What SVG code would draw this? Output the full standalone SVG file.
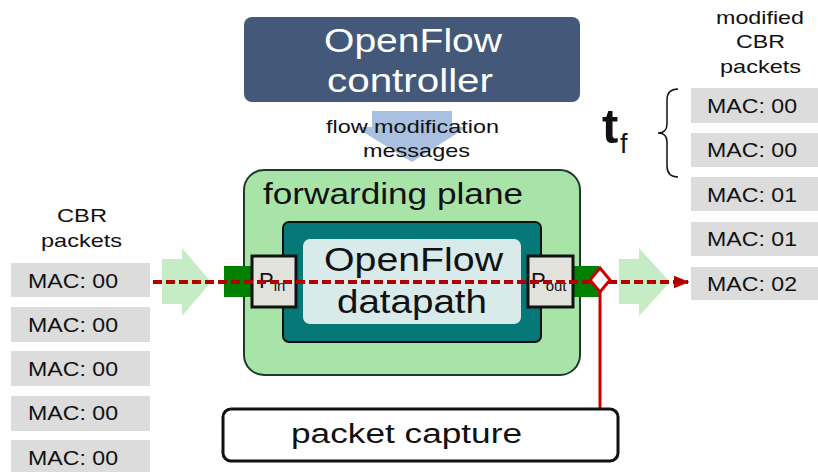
<svg xmlns="http://www.w3.org/2000/svg" width="818" height="472" viewBox="0 0 818 472">
<style>
text{font-family:"Liberation Sans",Arial,sans-serif;fill:#111}
.pkt{fill:#dcdcdc}
.mac{font-size:20.5px}
.lbl{font-size:19px}
.garrow{fill:#c6ecc6}
.port{fill:#e2e2dc;stroke:#111;stroke-width:3}
.strip{fill:#008000}
</style>
<defs>
<marker id="ah" viewBox="0 0 10 10" refX="9" refY="5" markerWidth="4" markerHeight="4" orient="auto" markerUnits="strokeWidth"><path d="M0,1 L10,5 L0,9 z" fill="#b00000"/></marker>
</defs>

<g id="controller">
<rect x="244" y="17" width="336" height="85" rx="8" fill="#44587a"/>
<text x="324" y="52" font-size="34" textLength="178" lengthAdjust="spacingAndGlyphs" style="fill:#fff">OpenFlow</text>
<text x="327" y="92" font-size="34" textLength="166" lengthAdjust="spacingAndGlyphs" style="fill:#fff">controller</text>
</g>

<g id="flowmod">
<path d="M372,111 L452,111 L452,127 L467,127 L412,162 L355,127 L372,127 z" fill="#a9c0e0"/>
<text x="326" y="133" class="lbl" textLength="173" lengthAdjust="spacingAndGlyphs">flow modification</text>
<text x="363" y="157" class="lbl" textLength="107" lengthAdjust="spacingAndGlyphs">messages</text>
</g>

<g id="left-packets">
<text x="57" y="222" class="lbl" font-size="20" textLength="50" lengthAdjust="spacingAndGlyphs">CBR</text>
<text x="41" y="247" class="lbl" font-size="20" textLength="81" lengthAdjust="spacingAndGlyphs">packets</text>
<rect class="pkt" x="11" y="263" width="139" height="34"/>
<text x="28" y="288" class="mac" textLength="90" lengthAdjust="spacingAndGlyphs">MAC: 00</text>
<rect class="pkt" x="11" y="307" width="139" height="35"/>
<text x="28" y="332" class="mac" textLength="90" lengthAdjust="spacingAndGlyphs">MAC: 00</text>
<rect class="pkt" x="11" y="351" width="139" height="35"/>
<text x="28" y="376" class="mac" textLength="90" lengthAdjust="spacingAndGlyphs">MAC: 00</text>
<rect class="pkt" x="11" y="396" width="139" height="35"/>
<text x="28" y="420" class="mac" textLength="90" lengthAdjust="spacingAndGlyphs">MAC: 00</text>
<rect class="pkt" x="11" y="440" width="139" height="35"/>
<text x="28" y="465" class="mac" textLength="90" lengthAdjust="spacingAndGlyphs">MAC: 00</text>
</g>

<g id="left-arrow">
<path class="garrow" d="M162,259 L182,259 L182,248 L211,282 L182,316 L182,304 L162,304 z"/>
</g>

<g id="forwarding-plane">
<rect x="244" y="170" width="336" height="205" rx="20" fill="#a8e4a8" stroke="#1e3a2a" stroke-width="2"/>
<text x="263" y="204" font-size="29" textLength="260" lengthAdjust="spacingAndGlyphs">forwarding plane</text>
</g>

<g id="datapath">
<rect x="283" y="222" width="258" height="120" rx="6" fill="#067878" stroke="#111" stroke-width="2"/>
<rect x="303" y="239" width="218" height="85" rx="7" fill="#d8eaea"/>
<text x="324" y="271" font-size="34" textLength="179" lengthAdjust="spacingAndGlyphs">OpenFlow</text>
<text x="337" y="313" font-size="34" textLength="150" lengthAdjust="spacingAndGlyphs">datapath</text>
</g>

<g id="port-in">
<rect class="strip" x="224" y="266" width="28" height="31"/>
<rect class="port" x="252" y="256" width="44" height="51"/>
<text x="259" y="288" font-size="22">P<tspan font-size="15" dy="3">in</tspan></text>
</g>

<g id="port-out">
<rect class="strip" x="573" y="266" width="26" height="31"/>
<rect class="port" x="528" y="256" width="45" height="51"/>
<text x="531" y="288" font-size="22">P<tspan font-size="15" dy="3">out</tspan></text>
</g>

<g id="right-arrow">
<path class="garrow" d="M619,259 L639,259 L639,248 L670,282 L639,316 L639,304 L619,304 z"/>
</g>

<g id="connectors">
<line x1="153" y1="282" x2="688" y2="282" stroke="#b00000" stroke-width="4" stroke-dasharray="9,4" marker-end="url(#ah)"/>
<line x1="600" y1="292" x2="600" y2="410" stroke="#cc0000" stroke-width="3"/>
<path d="M600,268 L610,280 L600,292 L590,280 z" fill="#fff" stroke="#cc0000" stroke-width="3"/>
</g>

<g id="packet-capture">
<rect x="223" y="409" width="395" height="52" rx="8" fill="#fff" stroke="#111" stroke-width="3"/>
<text x="291" y="443" font-size="27" textLength="231" lengthAdjust="spacingAndGlyphs">packet capture</text>
</g>

<g id="right-packets">
<text x="716" y="24" class="lbl" textLength="88" lengthAdjust="spacingAndGlyphs">modified</text>
<text x="736" y="48" class="lbl" textLength="49" lengthAdjust="spacingAndGlyphs">CBR</text>
<text x="720" y="73" class="lbl" textLength="81" lengthAdjust="spacingAndGlyphs">packets</text>
<rect class="pkt" x="691" y="88" width="135" height="35"/>
<text x="707" y="113" class="mac" textLength="90" lengthAdjust="spacingAndGlyphs">MAC: 00</text>
<rect class="pkt" x="691" y="133" width="135" height="34"/>
<text x="707" y="157" class="mac" textLength="90" lengthAdjust="spacingAndGlyphs">MAC: 00</text>
<rect class="pkt" x="691" y="177" width="135" height="34"/>
<text x="707" y="202" class="mac" textLength="90" lengthAdjust="spacingAndGlyphs">MAC: 01</text>
<rect class="pkt" x="691" y="222" width="135" height="34"/>
<text x="707" y="246" class="mac" textLength="90" lengthAdjust="spacingAndGlyphs">MAC: 01</text>
<rect class="pkt" x="691" y="267" width="135" height="33"/>
<text x="707" y="291" class="mac" textLength="90" lengthAdjust="spacingAndGlyphs">MAC: 02</text>
</g>

<g id="tf">
<text x="602" y="143" font-size="49" font-weight="bold">t</text>
<text x="620" y="153" font-size="27">f</text>
<path d="M678,89 Q667,89 667,100 L667,124 Q667,133 658,133 Q667,133 667,142 L667,166 Q667,177 678,177" fill="none" stroke="#111" stroke-width="1.5"/>
</g>
</svg>
